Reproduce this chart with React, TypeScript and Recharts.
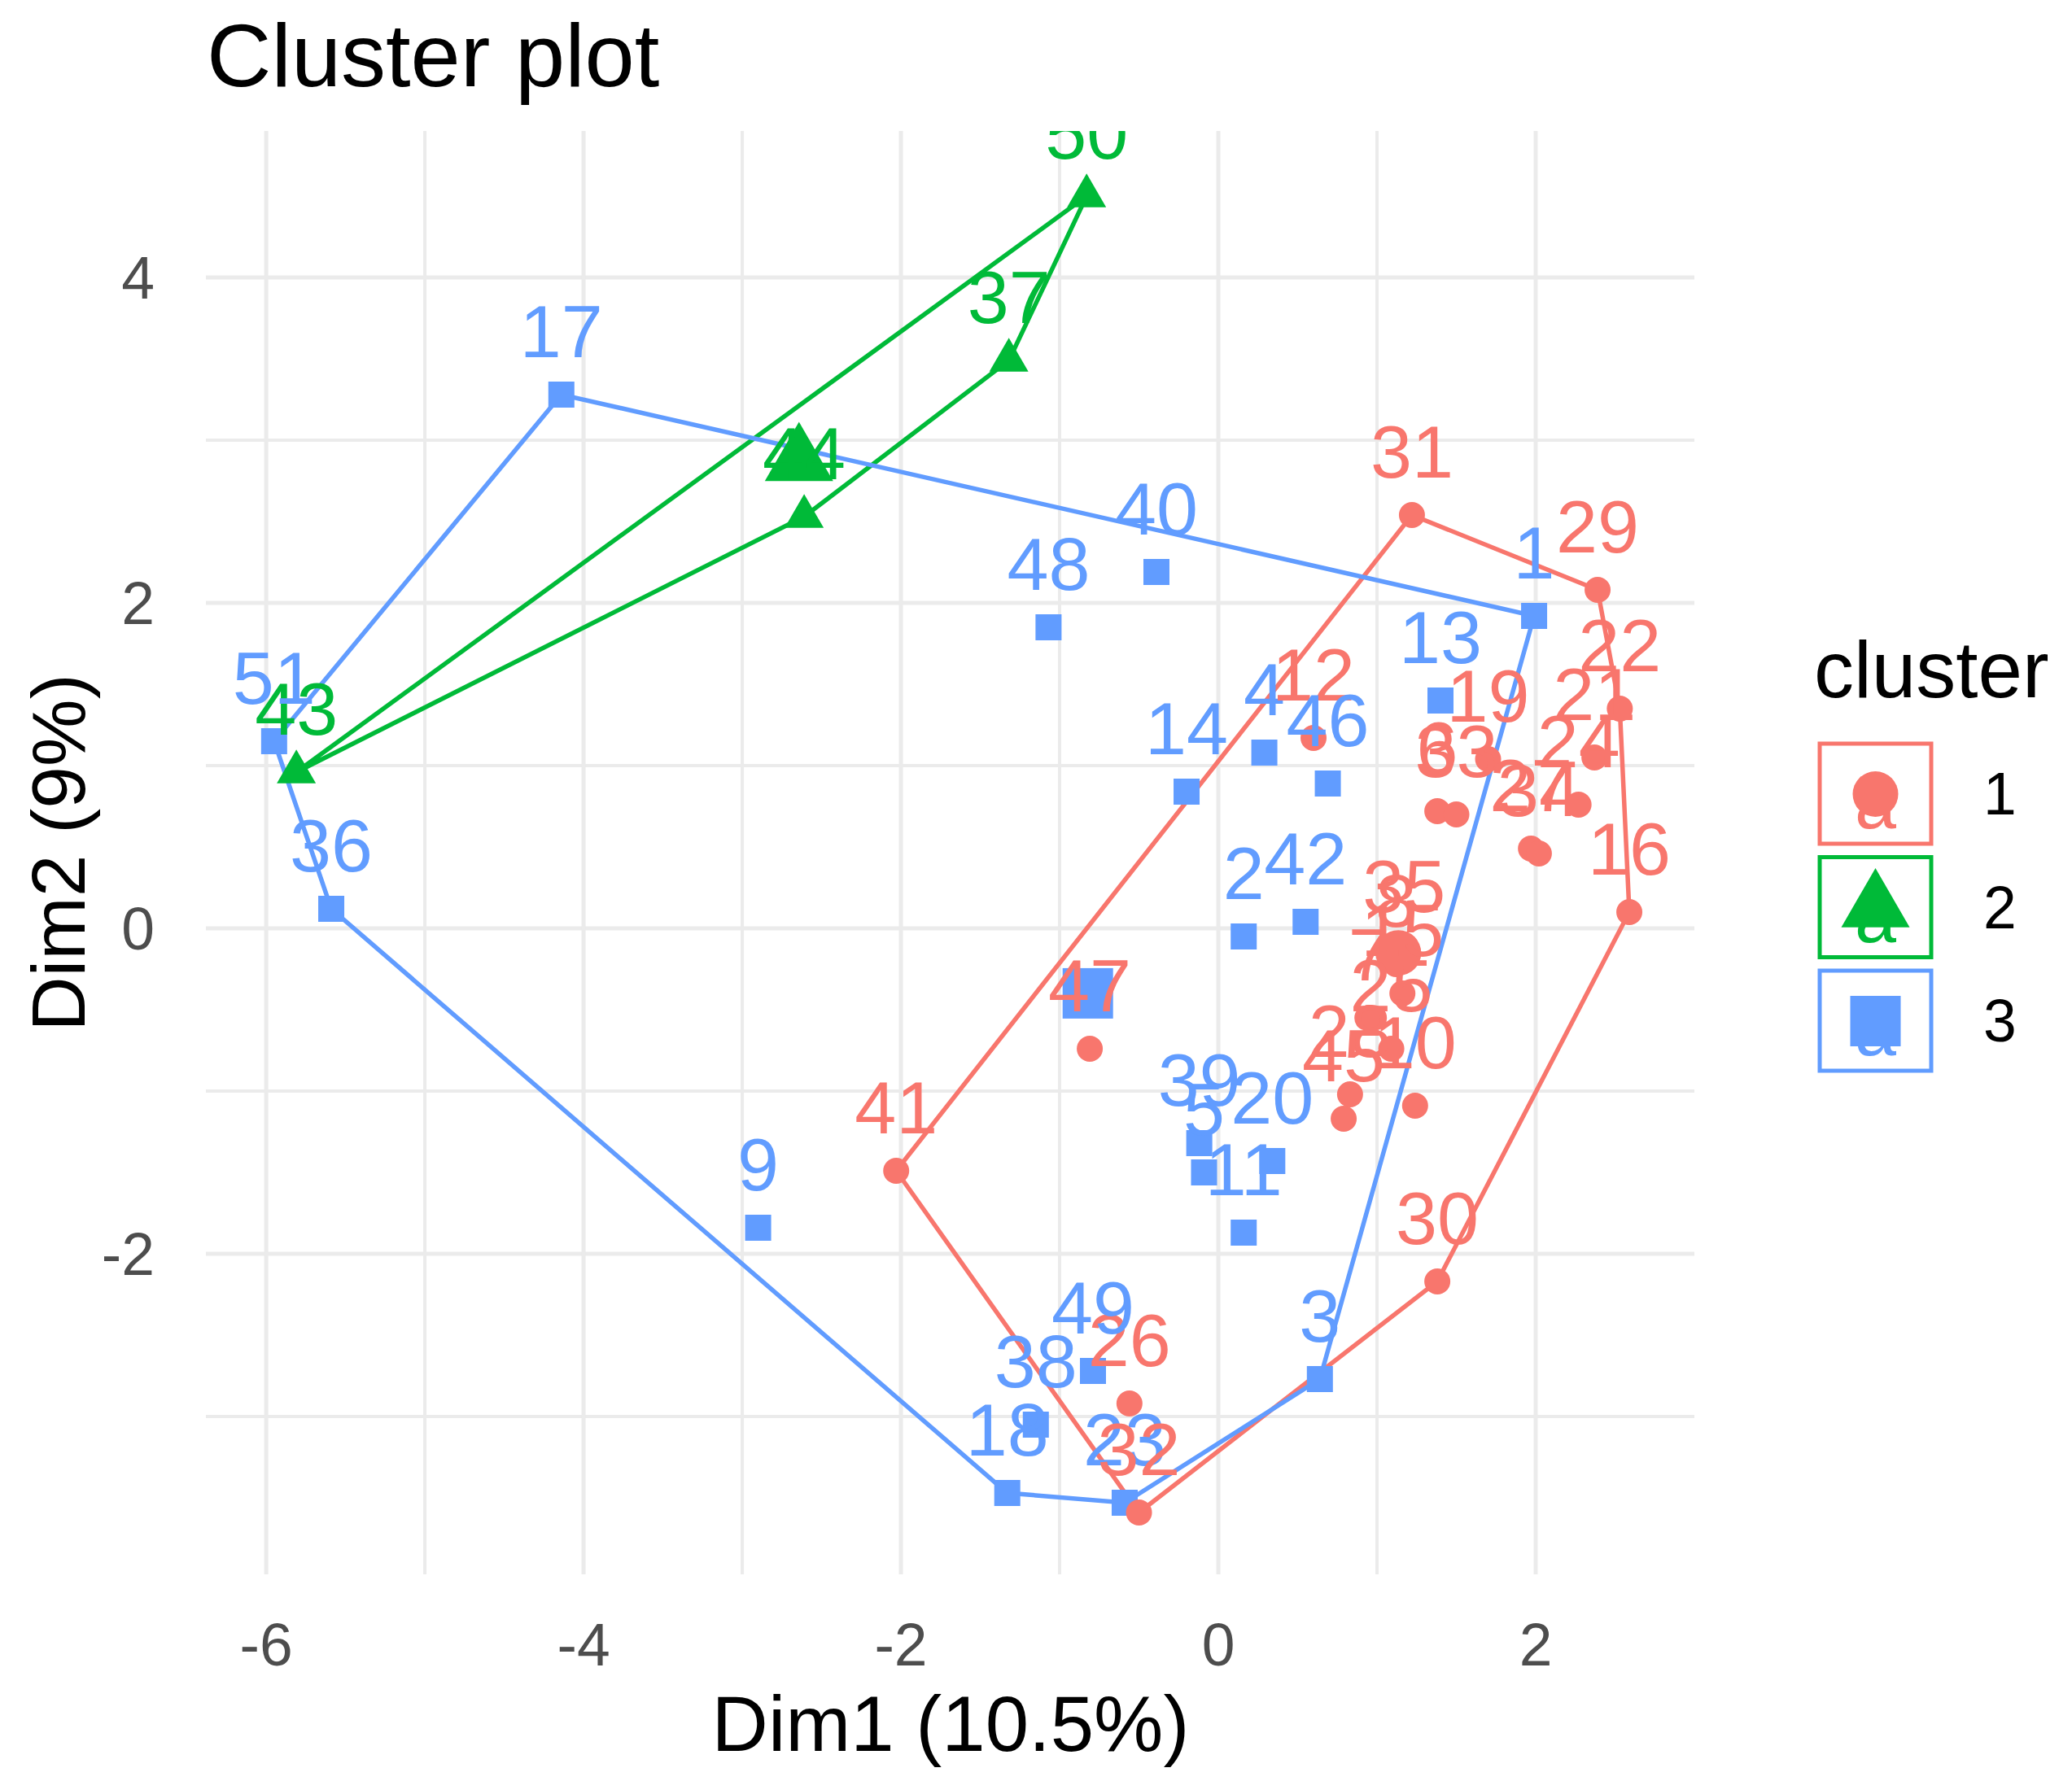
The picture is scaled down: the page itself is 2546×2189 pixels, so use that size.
import React from 'react';
import { ScatterChart, Scatter, XAxis, YAxis, CartesianGrid } from 'recharts';

const FONT = '"Liberation Sans", Arial, Helvetica, sans-serif';

const clusterNames = ['1', '2', '3'];
const clusterColors = ['#F8766D', '#00BA38', '#619CFF'];

// [row id, Dim1, Dim2]
const cluster1Points = [
  [6, 1.38, 0.72], [7, 0.95, -0.55], [8, 1.12, -0.22], [10, 1.24, -1.09],
  [12, 0.6, 1.17], [15, 1.16, -0.4], [16, 2.59, 0.1], [19, 1.7, 1.04],
  [21, 2.37, 1.05], [22, 2.53, 1.35], [24, 2.27, 0.76], [25, 1.09, -0.74],
  [26, -0.56, -2.92], [27, 1.97, 0.49], [28, 0.83, -1.02], [29, 2.39, 2.08],
  [30, 1.38, -2.17], [31, 1.22, 2.54], [32, -0.5, -3.59], [33, 1.5, 0.7],
  [34, 2.02, 0.46], [35, 1.17, -0.13], [41, -2.03, -1.49], [45, 0.79, -1.17],
  [47, -0.81, -0.74],
];
const cluster2Points = [
  [37, -1.32, 3.49], [43, -5.81, 0.96], [44, -2.61, 2.53], [50, -0.83, 4.5],
];
const cluster3Points = [
  [1, 1.99, 1.92], [2, 0.16, -0.05], [3, 0.64, -2.77], [4, 0.29, 1.08],
  [5, -0.09, -1.5], [9, -2.9, -1.84], [11, 0.16, -1.87], [13, 1.4, 1.4],
  [14, -0.2, 0.84], [17, -4.14, 3.28], [18, -1.33, -3.47], [20, 0.34, -1.43],
  [23, -0.59, -3.53], [36, -5.59, 0.12], [38, -1.15, -3.05], [39, -0.12, -1.32],
  [40, -0.39, 2.19], [42, 0.55, 0.04], [46, 0.69, 0.89], [48, -1.07, 1.85],
  [49, -0.79, -2.72], [51, -5.95, 1.15],
];

const xTicks = [-6, -4, -2, 0, 2];
const yTicks = [-2, 0, 2, 4];
const xMinor = [-5, -3, -1, 1];
const yMinor = [-3, -1, 1, 3];
const xDomain = [-6.38, 3.0];
const yDomain = [-3.97, 4.9];

const W = 2546;
const H = 2189;

const clusters = [cluster1Points, cluster2Points, cluster3Points].map((pts, k) =>
  pts.map(([id, x, y]) => ({ id, x, y, k }))
);
const allPoints = clusters.flat().sort((a, b) => a.id - b.id);
const centers = clusters.map((pts, k) => ({
  x: pts.reduce((s, p) => s + p.x, 0) / pts.length,
  y: pts.reduce((s, p) => s + p.y, 0) / pts.length,
  k,
}));

function convexHull(pts) {
  const p = [...pts].sort((a, b) => a.x - b.x || a.y - b.y);
  const cross = (o, a, b) => (a.x - o.x) * (b.y - o.y) - (a.y - o.y) * (b.x - o.x);
  const lower = [];
  for (const q of p) {
    while (lower.length >= 2 && cross(lower[lower.length - 2], lower[lower.length - 1], q) <= 0) lower.pop();
    lower.push(q);
  }
  const upper = [];
  for (const q of [...p].reverse()) {
    while (upper.length >= 2 && cross(upper[upper.length - 2], upper[upper.length - 1], q) <= 0) upper.pop();
    upper.push(q);
  }
  lower.pop();
  upper.pop();
  const h = lower.concat(upper);
  return [...h, h[0]];
}
const hulls = clusters.map(convexHull);

function marker(k, cx, cy, big) {
  const color = clusterColors[k];
  if (k === 0) return <circle cx={cx} cy={cy} r={big ? 28 : 16} fill={color} />;
  if (k === 1) {
    const xc = big ? 42 : 24;
    const u = xc / 1.347;
    const r = 1.555 * u;
    const yc = 0.778 * u;
    return <polygon points={`${cx},${cy - r} ${cx + xc},${cy + yc} ${cx - xc},${cy + yc}`} fill={color} />;
  }
  const s = big ? 62 : 32;
  return <rect x={cx - s / 2} y={cy - s / 2} width={s} height={s} fill={color} />;
}

const PointShape = (props: any) => {
  const { cx, cy, payload } = props;
  return marker(payload.k, cx, cy, false);
};
const CenterShape = (props: any) => {
  const { cx, cy, payload } = props;
  return marker(payload.k, cx, cy, true);
};
const LabelShape = (props: any) => {
  const { cx, cy, payload } = props;
  return (
    <text x={cx} y={cy - 46} textAnchor="middle" fontSize={91.7} fontFamily={FONT} fill={clusterColors[payload.k]}>
      {payload.id}
    </text>
  );
};
const NoShape = () => <g />;

const tickStyle = { fontSize: 73.3, fill: '#4D4D4D', fontFamily: FONT };

export default function App() {
  const keyTop = 914;
  const keyStep = 139.5;
  return (
    <div style={{ position: 'absolute', left: 0, top: 0, width: W, height: H, background: '#fff' }}>
      <ScatterChart width={W} height={H} margin={{ top: 161, right: 464, bottom: 134, left: 103 }}>
        <CartesianGrid stroke="#EBEBEB" strokeWidth={4} verticalValues={xMinor} horizontalValues={yMinor} />
        <CartesianGrid stroke="#EBEBEB" strokeWidth={5} verticalValues={xTicks} horizontalValues={yTicks} />
        <XAxis
          type="number"
          dataKey="x"
          domain={xDomain}
          ticks={xTicks}
          interval={0}
          allowDataOverflow
          axisLine={false}
          tickLine={false}
          tickSize={0}
          tickMargin={60}
          height={120}
          tick={tickStyle}
        />
        <YAxis
          type="number"
          dataKey="y"
          domain={yDomain}
          ticks={yTicks}
          interval={0}
          allowDataOverflow
          axisLine={false}
          tickLine={false}
          tickSize={0}
          tickMargin={63}
          width={150}
          tick={tickStyle}
        />
        {hulls.map((h, k) => (
          <Scatter
            key={'hull' + k}
            data={h}
            fill={clusterColors[k]}
            line={{ stroke: clusterColors[k], strokeWidth: 5.5 }}
            lineType="joint"
            shape={NoShape}
            isAnimationActive={false}
          />
        ))}
        <Scatter data={allPoints} shape={PointShape} isAnimationActive={false} />
        <Scatter data={centers} shape={CenterShape} isAnimationActive={false} />
        <Scatter data={allPoints} shape={LabelShape} isAnimationActive={false} />
      </ScatterChart>
      <svg width={W} height={H} style={{ position: 'absolute', left: 0, top: 0, pointerEvents: 'none' }}>
        <text x={254} y={106} fontSize={110} fontFamily={FONT} fill="#000">
          Cluster plot
        </text>
        <text x={1168} y={2152} fontSize={96} fontFamily={FONT} fill="#000" textAnchor="middle">
          Dim1 (10.5%)
        </text>
        <text
          x={104}
          y={1048}
          fontSize={93}
          fontFamily={FONT}
          fill="#000"
          textAnchor="middle"
          transform="rotate(-90, 104, 1048)"
        >
          Dim2 (9%)
        </text>
        <text x={2229} y={857} fontSize={98} fontFamily={FONT} fill="#000">
          cluster
        </text>
        {clusterNames.map((name, k) => {
          const top = keyTop + k * keyStep;
          const cy = top + 62;
          return (
            <g key={name}>
              <rect x={2236} y={top} width={137} height={123} fill="#fff" stroke={clusterColors[k]} strokeWidth={5} />
              <text x={2304.5} y={cy + 42} fontSize={91.7} fontFamily={FONT} fill={clusterColors[k]} textAnchor="middle">
                a
              </text>
              {marker(k, 2304.5, cy, true)}
              <text x={2437} y={cy} fontSize={73.3} fontFamily={FONT} fill="#000" dominantBaseline="central">
                {name}
              </text>
            </g>
          );
        })}
      </svg>
    </div>
  );
}
